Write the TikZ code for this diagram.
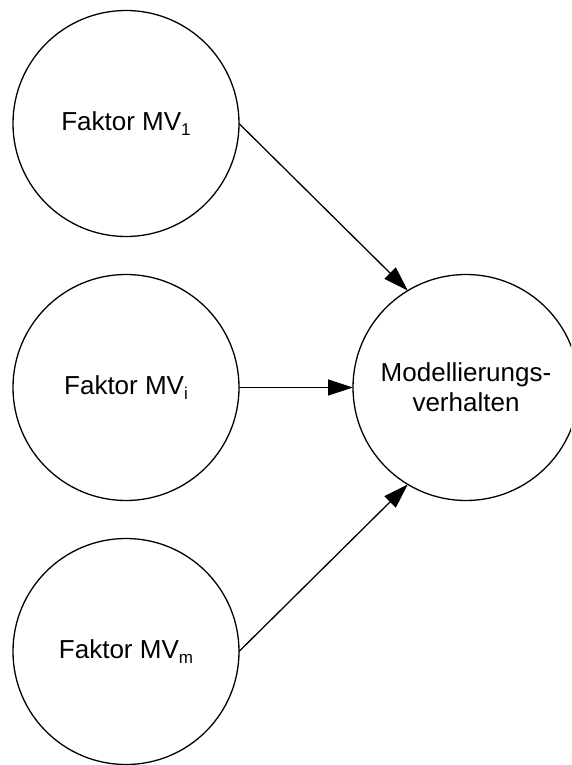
\documentclass[tikz,border=0pt]{standalone}
\usepackage{fontspec}
\setmainfont{Liberation Sans}
\usetikzlibrary{arrows.meta}
\newcommand{\subtxt}[1]{\raisebox{-0.22em}{\fontsize{17}{17}\selectfont #1}}
\begin{document}
\begin{tikzpicture}[x=1pt,y=-1pt,
  bubble/.style={draw=black,line width=1.3pt,circle,minimum size=226pt,inner sep=0pt,outer sep=0pt,
    font=\fontsize{26}{30}\selectfont,align=center},
  conn/.style={draw=black,line width=1.3pt,-{Triangle[length=25pt,width=16pt]}}]
\useasboundingbox (0,0) rectangle (571,765);
\clip (0,0) rectangle (571,765);
\node[bubble] (f1) at (126,123.5) {Faktor MV\subtxt{1}};
\node[bubble] (fi) at (126,387.5) {Faktor MV\subtxt{i}};
\node[bubble] (fm) at (126,651.5) {Faktor MV\subtxt{m}};
\node[bubble] (m) at (466,387.5) {Modellierungs-\\verhalten};
\draw[conn] (f1.east) -- (m.121);
\draw[conn] (fi.east) -- (m.west);
\draw[conn] (fm.east) -- (m.239);
\end{tikzpicture}
\end{document}
